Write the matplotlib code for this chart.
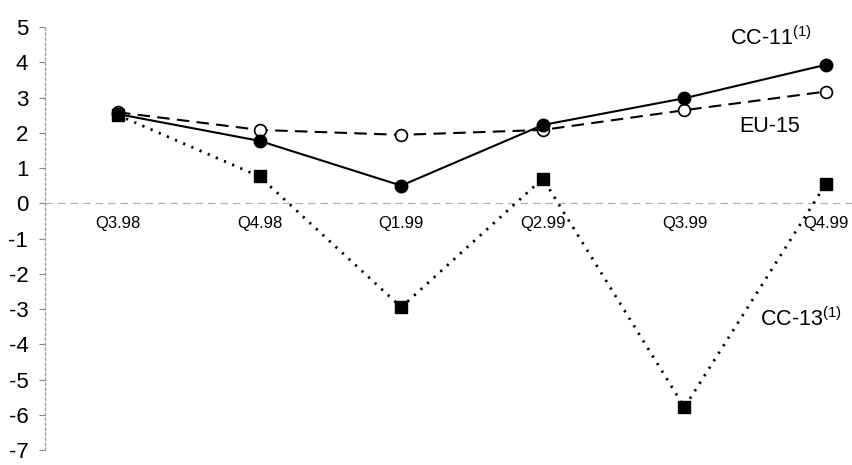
import matplotlib.pyplot as plt

plt.rcParams["font.family"] = ["Liberation Sans", "DejaVu Sans"]
plt.rcParams["mathtext.fontset"] = "custom"
plt.rcParams["mathtext.rm"] = "Liberation Sans"

quarters = ["Q3.98", "Q4.98", "Q1.99", "Q2.99", "Q3.99", "Q4.99"]
cc11 = [2.53, 1.77, 0.5, 2.22, 2.98, 3.93]
eu15 = [2.58, 2.08, 1.94, 2.08, 2.64, 3.17]
cc13 = [2.5, 0.76, -2.95, 0.7, -5.79, 0.56]
yticks = list(range(-7, 6))

x = list(range(len(quarters)))

fig = plt.figure(figsize=(8.53, 4.65), dpi=100)
ax = fig.add_axes([45 / 853, 15 / 465, 1 - 45 / 853, 423 / 465])

# zero line and series
ax.axhline(0, color="#b0b0b0", linewidth=0.9, linestyle=(0, (6, 4)), zorder=1)
ax.plot(x, cc13, color="black", linewidth=2.0, linestyle=(0, (0.8, 2.4)),
        marker="s", markersize=8, markerfacecolor="black", zorder=3)
ax.plot(x, eu15, color="black", linewidth=1.5, linestyle=(0, (6, 3.5)),
        marker="o", markersize=8.5, markerfacecolor="white",
        markeredgecolor="black", markeredgewidth=1.2, zorder=4)
ax.plot(x, cc11, color="black", linewidth=1.5,
        marker="o", markersize=9, markerfacecolor="black", zorder=5)

# series labels
ax.text(4.61, 4.69, "CC-11$^{(1)}$", fontsize=15.5, ha="center", va="center")
ax.text(4.6, 2.19, "EU-15", fontsize=15.5, ha="center", va="center")
ax.text(4.82, -3.29, "CC-13$^{(1)}$", fontsize=15.5, ha="center", va="center")

# category labels just under the zero line
for xi, q in zip(x, quarters):
    ax.text(xi, -0.58, q, fontsize=12, ha="center", va="center")

ax.set_xlim(-0.515, 5.19)
ax.set_ylim(-7, 5)
ax.set_yticks(yticks)
ax.set_yticklabels([str(t) for t in yticks], fontsize=16)
ax.set_xticks([])
ax.tick_params(axis="y", length=4, width=0.8, color="#888888", pad=8)

for side in ["top", "right", "bottom"]:
    ax.spines[side].set_visible(False)
ax.spines["left"].set_color("#999999")
ax.spines["left"].set_linestyle((0, (2, 2)))
ax.spines["left"].set_linewidth(0.9)

fig.savefig("out.png", dpi=100)
